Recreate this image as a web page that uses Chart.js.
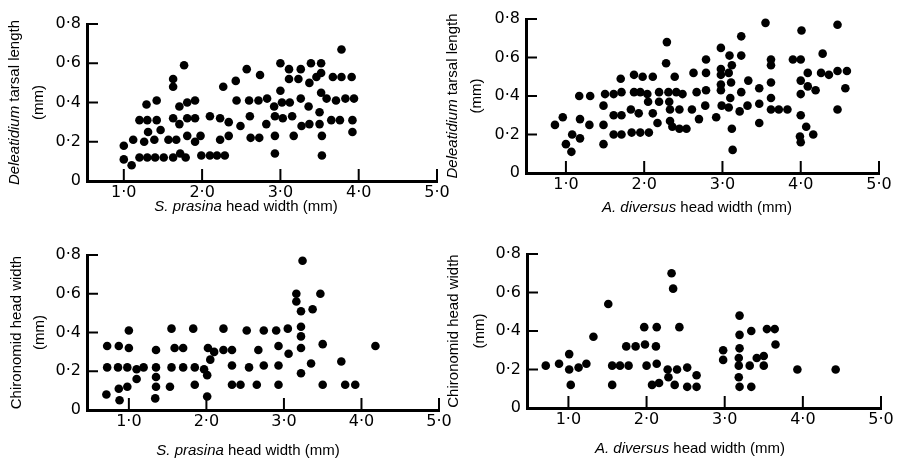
<!DOCTYPE html>
<html>
<head>
<meta charset="utf-8">
<script src="https://cdn.jsdelivr.net/npm/chart.js@4/dist/chart.umd.min.js"></script>
<style>
  html, body { margin: 0; padding: 0; background: #fff; }
  #wrap { position: relative; width: 897px; height: 460px; }
  #wrap canvas { position: absolute; left: 0; top: 0; }
</style>
</head>
<body>
<div id="wrap">
  <canvas id="c1" width="897" height="460"></canvas>
  <canvas id="c2" width="897" height="460"></canvas>
  <canvas id="c3" width="897" height="460"></canvas>
  <canvas id="c4" width="897" height="460"></canvas>
</div>
<script>
// S. prasina head width vs Deleatidium tarsal length
const prasinaTarsalX = [1.00,1.00,1.10,1.12,1.20,1.20,1.29,1.30,1.31,1.26,1.30,1.42,1.42,1.39,1.40,1.47,1.51,
  1.63,1.63,1.63,1.57,1.67,1.63,1.71,1.71,1.72,1.77,1.81,1.91,1.81,1.91,1.81,1.79,1.91,1.98,1.99,2.10,2.19,2.29,
  2.10,2.23,2.34,2.23,2.34,2.27,2.43,2.44,2.49,2.57,2.61,2.60,2.72,2.62,2.73,2.74,2.82,2.83,2.92,2.93,2.93,2.93,
  3.00,3.00,3.02,3.12,3.03,3.11,3.11,3.23,3.15,3.17,3.26,3.26,3.27,3.36,3.37,3.39,3.37,3.46,3.52,3.52,3.52,3.50,
  3.50,3.53,3.53,3.59,3.65,3.67,3.71,3.76,3.78,3.78,3.83,3.91,3.94,3.92,3.92];
const prasinaTarsalY = [0.18,0.11,0.08,0.21,0.31,0.12,0.39,0.31,0.25,0.20,0.12,0.41,0.31,0.21,0.12,0.26,0.12,
  0.52,0.48,0.32,0.21,0.21,0.12,0.38,0.29,0.14,0.59,0.40,0.41,0.32,0.32,0.23,0.12,0.20,0.23,0.13,0.13,0.13,0.13,
  0.33,0.32,0.30,0.21,0.23,0.48,0.51,0.41,0.28,0.57,0.33,0.41,0.41,0.22,0.22,0.54,0.29,0.42,0.38,0.33,0.23,0.14,
  0.46,0.60,0.40,0.40,0.32,0.57,0.52,0.52,0.33,0.23,0.57,0.42,0.28,0.38,0.29,0.60,0.50,0.53,0.60,0.55,0.45,0.35,
  0.29,0.23,0.13,0.42,0.31,0.53,0.41,0.31,0.67,0.53,0.42,0.53,0.42,0.31,0.25];

// A. diversus head width vs Deleatidium tarsal length
const diversusTarsalX = [0.86,0.96,1.00,1.07,1.08,1.18,1.18,1.30,1.17,1.31,1.48,1.48,1.48,1.50,1.61,1.71,1.70,
  1.61,1.71,1.61,1.71,1.87,1.98,1.87,1.95,2.04,1.83,1.93,1.84,1.95,2.06,2.05,2.11,2.11,2.19,2.19,2.17,2.29,2.28,
  2.31,2.41,2.49,2.32,2.33,2.45,2.33,2.36,2.45,2.54,2.39,2.61,2.63,2.67,2.70,2.79,2.79,2.79,2.78,2.92,2.98,2.98,
  2.98,2.98,2.98,3.09,3.08,3.12,3.11,3.10,2.99,3.08,3.12,3.13,3.24,3.24,3.24,3.22,3.32,3.33,3.47,3.47,3.47,3.55,
  3.62,3.62,3.62,3.62,3.62,3.72,3.83,3.90,4.00,4.01,4.09,4.00,4.09,4.00,4.19,4.00,4.07,4.16,3.99,4.00,4.28,4.26,
  4.36,4.47,4.47,4.59,4.57,4.47];
const diversusTarsalY = [0.25,0.29,0.15,0.11,0.20,0.18,0.28,0.25,0.40,0.40,0.25,0.35,0.15,0.41,0.41,0.42,0.49,
  0.30,0.30,0.20,0.20,0.51,0.50,0.42,0.42,0.41,0.33,0.31,0.21,0.21,0.21,0.37,0.50,0.31,0.42,0.37,0.26,0.68,0.57,
  0.42,0.42,0.41,0.37,0.33,0.33,0.27,0.24,0.23,0.23,0.50,0.33,0.52,0.42,0.28,0.43,0.52,0.59,0.35,0.29,0.65,0.54,
  0.51,0.46,0.43,0.61,0.52,0.56,0.47,0.39,0.35,0.34,0.23,0.12,0.71,0.61,0.42,0.32,0.35,0.48,0.44,0.36,0.26,0.78,
  0.59,0.56,0.47,0.39,0.33,0.33,0.33,0.59,0.59,0.74,0.52,0.48,0.45,0.41,0.43,0.30,0.24,0.20,0.19,0.16,0.62,0.52,
  0.51,0.77,0.53,0.53,0.44,0.33];

// S. prasina head width vs Chironomid head width
const prasinaChiroX = [0.72,0.72,0.71,0.87,0.86,0.88,0.87,0.98,1.00,1.00,0.98,1.10,1.10,1.19,1.35,1.35,1.35,
  1.35,1.34,1.53,1.55,1.55,1.59,1.70,1.70,1.85,1.83,1.85,1.97,2.01,2.01,2.02,2.10,2.05,2.22,2.22,2.33,2.33,2.33,
  2.44,2.52,2.55,2.67,2.65,2.74,2.74,2.90,3.05,2.93,3.06,2.93,2.93,3.24,3.16,3.16,3.22,3.37,3.47,3.22,3.22,3.22,
  3.50,3.35,3.22,3.50,3.74,3.79,3.92,4.18];
const prasinaChiroY = [0.33,0.22,0.08,0.33,0.22,0.05,0.11,0.22,0.41,0.32,0.12,0.21,0.16,0.22,0.31,0.22,0.17,
  0.12,0.06,0.12,0.42,0.22,0.32,0.32,0.22,0.13,0.42,0.22,0.21,0.18,0.07,0.32,0.30,0.26,0.42,0.31,0.31,0.23,0.13,
  0.13,0.41,0.22,0.31,0.13,0.41,0.23,0.41,0.42,0.33,0.29,0.23,0.13,0.77,0.60,0.56,0.51,0.52,0.60,0.43,0.38,0.32,
  0.34,0.24,0.19,0.13,0.25,0.13,0.13,0.33];

// A. diversus head width vs Chironomid head width
const diversusChiroX = [0.71,0.88,1.01,1.01,1.13,1.23,1.03,1.32,1.51,1.56,1.66,1.56,1.74,1.86,1.77,1.97,1.98,
  2.00,2.07,2.16,2.13,2.12,2.13,2.32,2.34,2.42,2.27,2.39,2.28,2.36,2.52,2.52,2.64,2.64,2.98,2.98,3.19,3.19,3.19,
  3.18,3.18,3.18,3.19,3.34,3.34,3.32,3.41,3.50,3.50,3.54,3.64,3.65,3.93,4.42];
const diversusChiroY = [0.22,0.23,0.28,0.20,0.21,0.23,0.12,0.37,0.54,0.22,0.22,0.12,0.32,0.32,0.22,0.42,0.33,
  0.22,0.12,0.13,0.42,0.32,0.23,0.70,0.62,0.42,0.20,0.20,0.16,0.12,0.21,0.11,0.11,0.17,0.30,0.25,0.48,0.38,0.31,
  0.26,0.22,0.16,0.11,0.11,0.40,0.22,0.26,0.27,0.22,0.41,0.41,0.33,0.20,0.20];

const xTicks = [1, 2, 3, 4, 5];
const yTicks = [0, 0.2, 0.4, 0.6, 0.8];
const tickLabel = v => v === 0 ? '0' : v.toFixed(1).replace('.', '\u00b7');

const panels = [
  { id: 'c1', xs: prasinaTarsalX, ys: prasinaTarsalY, xMin: 0.53, area: [87, 24, 437, 181],
    xTitle: [['S. prasina', true], [' head width (mm)', false]], xTitlePos: [246, 207],
    yTitle: [['Deleatidium', true], [' tarsal length', false]], yTitleX: 15, mmX: 39 },
  { id: 'c2', xs: diversusTarsalX, ys: diversusTarsalY, xMin: 0.49, area: [526, 19, 879, 173],
    xTitle: [['A. diversus', true], [' head width (mm)', false]], xTitlePos: [697, 208],
    yTitle: [['Deleatidium', true], [' tarsal length', false]], yTitleX: 453, mmX: 477 },
  { id: 'c3', xs: prasinaChiroX, ys: prasinaChiroY, xMin: 0.46, area: [87, 255, 439, 410],
    xTitle: [['S. prasina', true], [' head width (mm)', false]], xTitlePos: [248, 451],
    yTitle: [['Chironomid head width', false]], yTitleX: 17, mmX: 40 },
  { id: 'c4', xs: diversusChiroX, ys: diversusChiroY, xMin: 0.47, area: [527, 254, 881, 408],
    xTitle: [['A. diversus', true], [' head width (mm)', false]], xTitlePos: [690, 449],
    yTitle: [['Chironomid head width', false]], yTitleX: 454, mmX: 480 }
];

const TITLE_FONT = "15px 'Liberation Sans'";
const TITLE_FONT_IT = "italic 15px 'Liberation Sans'";
const Y_AXIS_W = 50;   // room kept for y tick labels
const X_AXIS_H = 26;   // room kept for x tick labels

function drawSegments(ctx, segs, cx, cy) {
  let total = 0;
  segs.forEach(s => { ctx.font = s[1] ? TITLE_FONT_IT : TITLE_FONT; total += ctx.measureText(s[0]).width; });
  let x = cx - total / 2;
  segs.forEach(s => {
    ctx.font = s[1] ? TITLE_FONT_IT : TITLE_FONT;
    ctx.fillText(s[0], x, cy);
    x += ctx.measureText(s[0]).width;
  });
}

// inward tick marks and the axis titles
const axisExtras = {
  id: 'axisExtras',
  afterDraw(chart, args, opts) {
    const { ctx, chartArea, scales } = chart;
    const p = opts.panel;
    ctx.save();
    ctx.strokeStyle = '#000';
    ctx.lineWidth = 2;
    scales.x.ticks.forEach(t => {
      const px = scales.x.getPixelForValue(t.value);
      ctx.beginPath();
      ctx.moveTo(px, chartArea.bottom);
      ctx.lineTo(px, chartArea.bottom - 12);
      ctx.stroke();
    });
    scales.y.ticks.forEach(t => {
      if (t.value === 0) return;
      const py = scales.y.getPixelForValue(t.value);
      ctx.beginPath();
      ctx.moveTo(chartArea.left, py);
      ctx.lineTo(chartArea.left + 11, py);
      ctx.stroke();
    });
    ctx.fillStyle = '#000';
    ctx.textBaseline = 'middle';
    ctx.textAlign = 'left';
    drawSegments(ctx, p.xTitle, p.xTitlePos[0], p.xTitlePos[1]);
    const cy = (chartArea.top + chartArea.bottom) / 2;
    ctx.save();
    ctx.translate(p.yTitleX, cy);
    ctx.rotate(-Math.PI / 2);
    drawSegments(ctx, p.yTitle, 0, 0);
    ctx.restore();
    ctx.save();
    ctx.translate(p.mmX, cy);
    ctx.rotate(-Math.PI / 2);
    drawSegments(ctx, [['(mm)', false]], 0, 0);
    ctx.restore();
    ctx.restore();
  }
};

panels.forEach(p => {
  const [l, t, r, b] = p.area;
  new Chart(document.getElementById(p.id), {
    type: 'scatter',
    data: {
      datasets: [{
        data: p.xs.map((x, i) => ({ x: x, y: p.ys[i] })),
        backgroundColor: '#000',
        borderWidth: 0,
        pointRadius: 4.3,
        pointHoverRadius: 4.3,
        clip: false
      }]
    },
    options: {
      responsive: false,
      animation: false,
      events: [],
      layout: { padding: { left: l - Y_AXIS_W, top: t, right: 897 - r, bottom: 460 - b - X_AXIS_H } },
      plugins: { legend: { display: false }, tooltip: { enabled: false }, axisExtras: { panel: p } },
      scales: {
        x: {
          type: 'linear', min: p.xMin, max: 5,
          afterFit: s => { s.height = X_AXIS_H; },
          afterBuildTicks: s => { s.ticks = xTicks.map(v => ({ value: v })); },
          grid: { display: false, drawTicks: false, tickLength: 0 },
          border: { display: true, color: '#000', width: 3 },
          ticks: { color: '#000', font: { family: 'DejaVu Sans', size: 16 }, padding: 2,
                   maxRotation: 0, autoSkip: false, callback: v => tickLabel(v) }
        },
        y: {
          type: 'linear', min: 0, max: 0.8,
          afterFit: s => { s.width = Y_AXIS_W; },
          afterBuildTicks: s => { s.ticks = yTicks.map(v => ({ value: v })); },
          grid: { display: false, drawTicks: false, tickLength: 0 },
          border: { display: true, color: '#000', width: 3 },
          ticks: { color: '#000', font: { family: 'DejaVu Sans', size: 16 }, padding: 6,
                   autoSkip: false, callback: v => tickLabel(v) }
        }
      }
    },
    plugins: [axisExtras]
  });
});
</script>
</body>
</html>
